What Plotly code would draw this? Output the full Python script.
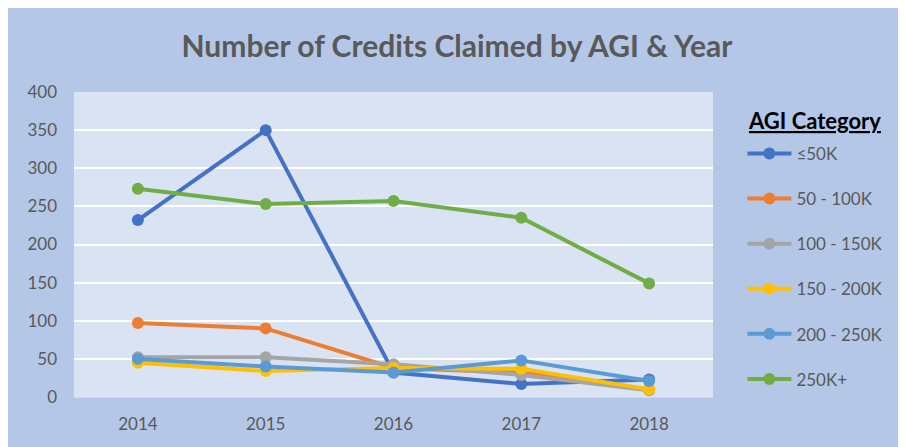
import plotly.graph_objects as go

years = ["2014", "2015", "2016", "2017", "2018"]

agi_le50 = [232, 350, 32, 17, 23]
agi_50_100 = [97, 90, 38, 32, 10]
agi_100_150 = [52, 52, 43, 29, 9]
agi_150_200 = [45, 34, 38, 37, 10]
agi_200_250 = [50, 40, 32, 48, 21]
agi_250_plus = [273, 253, 257, 235, 149]

series = [
    ("≤50K", agi_le50, "#4472C4"),
    ("50 - 100K", agi_50_100, "#ED7D31"),
    ("100 - 150K", agi_100_150, "#A5A5A5"),
    ("150 - 200K", agi_150_200, "#FFC000"),
    ("200 - 250K", agi_200_250, "#5B9BD5"),
    ("250K+", agi_250_plus, "#70AD47"),
]

fig = go.Figure()
for name, vals, color in series:
    fig.add_trace(
        go.Scatter(
            x=years,
            y=vals,
            name=name,
            legendgroup=name,
            mode="lines+markers",
            line=dict(color=color, width=4),
            marker=dict(color=color, size=12),
        )
    )

# page body margin (8px) gives the white strip on top/left like the original
fig.update_layout(
    width=898,
    height=439,
    margin=dict(l=66, r=193, t=84, b=50),
    paper_bgcolor="#B4C7E7",
    plot_bgcolor="#DAE3F3",
    font=dict(family="Lato", color="#595959", size=16),
    title=dict(
        text="<b>Number of Credits Claimed by AGI & Year</b>",
        x=0.5,
        xanchor="center",
        y=0.913,
        yanchor="middle",
        font=dict(size=30, color="#595959"),
    ),
    legend=dict(
        x=1.046,
        xanchor="left",
        y=0.856,
        yanchor="top",
        bgcolor="rgba(0,0,0,0)",
        font=dict(size=17, color="#595959"),
        tracegroupgap=20,
        itemwidth=44,
    ),
    annotations=[
        dict(
            text="<b><u>AGI Category</u></b>",
            xref="paper", yref="paper",
            x=1.051, y=0.905,
            xanchor="left", yanchor="middle",
            showarrow=False,
            font=dict(size=22, color="#000000"),
        )
    ],
)
fig.update_xaxes(
    range=[-0.5, 4.5],
    showgrid=False,
    showline=True,
    linecolor="#D0D7E5",
    linewidth=1,
    ticklabelstandoff=12,
    tickfont=dict(size=17, color="#595959"),
)
fig.update_yaxes(
    range=[0, 400],
    dtick=50,
    gridcolor="white",
    gridwidth=1.5,
    zeroline=False,
    ticklabelstandoff=16,
    tickfont=dict(size=17, color="#595959"),
)

fig.write_html("out.html")
